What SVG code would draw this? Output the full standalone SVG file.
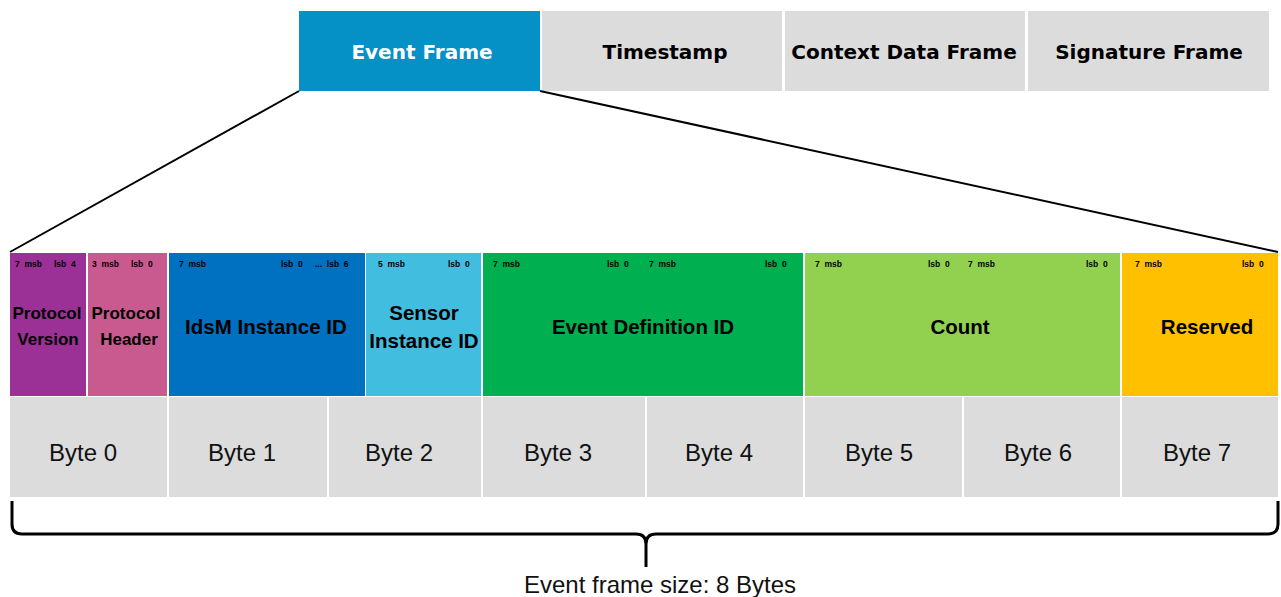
<svg xmlns="http://www.w3.org/2000/svg" width="1281" height="597" viewBox="0 0 1281 597">
<style>
.top{font-family:"DejaVu Sans",Verdana,sans-serif;font-weight:bold;font-size:20px;text-anchor:middle}
.fl{font-family:"Liberation Sans",Arial,sans-serif;font-weight:bold;font-size:20.5px;text-anchor:middle;fill:#000}
.fs{font-family:"Liberation Sans",Arial,sans-serif;font-weight:bold;font-size:17px;text-anchor:middle;fill:#000}
.sm{font-family:"Liberation Sans",Arial,sans-serif;font-weight:bold;font-size:8.5px;fill:#000;white-space:pre}
.by{font-family:"Liberation Sans",Arial,sans-serif;font-size:24px;text-anchor:middle;fill:#111}
.gray{fill:#DCDCDC}
.ln{stroke:#000;fill:none}
</style>
<rect width="1281" height="597" fill="#fff"/>
<g id="top-frames">
<g id="event-frame"><rect x="299" y="11" width="241" height="80" fill="#0591C6"/><text class="top" x="422" y="59" fill="#fff">Event Frame</text></g>
<g id="timestamp"><rect x="542" y="11" width="240" height="80" class="gray"/><text class="top" x="665" y="59" fill="#000">Timestamp</text></g>
<g id="context-data-frame"><rect x="785" y="11" width="240" height="80" class="gray"/><text class="top" x="904" y="59" fill="#000">Context Data Frame</text></g>
<g id="signature-frame"><rect x="1028" y="11" width="241" height="80" class="gray"/><text class="top" x="1149" y="59" fill="#000">Signature Frame</text></g>
</g>
<g id="connectors">
<line class="ln" x1="299" y1="91" x2="10" y2="252" stroke-width="2"/>
<line class="ln" x1="540" y1="91" x2="1278" y2="252" stroke-width="2"/>
<path class="ln" stroke-width="3" d="M12,501 V524 Q12,534 22,534 H636 Q646,534 646,544 V567 V544 Q646,534 656,534 H1268 Q1278,534 1278,524 V501"/>
</g>
<g id="protocol-version"><rect x="10" y="253" width="76" height="143" fill="#9B3196"/>
<text class="sm" x="15" y="267">7  msb</text><text class="sm" x="54" y="267">lsb  4</text>
<text class="fs" x="47" y="319">Protocol</text><text class="fs" x="48" y="345">Version</text></g>
<g id="protocol-header"><rect x="88" y="253" width="79" height="143" fill="#C95A8F"/>
<text class="sm" x="92" y="267">3  msb</text><text class="sm" x="131" y="267">lsb  0</text>
<text class="fs" x="126" y="319">Protocol</text><text class="fs" x="129" y="345">Header</text></g>
<g id="idsm-instance-id"><rect x="169" y="253" width="196" height="143" fill="#0070C0"/>
<text class="sm" x="179" y="267">7  msb</text><text class="sm" x="281" y="267">lsb  0</text><text class="sm" x="315" y="267">...  lsb  6</text>
<text class="fl" x="266" y="334">IdsM Instance ID</text></g>
<g id="sensor-instance-id"><rect x="366" y="253" width="115" height="143" fill="#41BEDF"/>
<text class="sm" x="378" y="267">5  msb</text><text class="sm" x="448" y="267">lsb  0</text>
<text class="fl" x="424" y="320">Sensor</text><text class="fl" x="424" y="348">Instance ID</text></g>
<g id="event-definition-id"><rect x="483" y="253" width="320" height="143" fill="#00B050"/>
<text class="sm" x="493" y="267">7  msb</text><text class="sm" x="607" y="267">lsb  0</text><text class="sm" x="649" y="267">7  msb</text><text class="sm" x="765" y="267">lsb  0</text>
<text class="fl" x="643" y="334">Event Definition ID</text></g>
<g id="count"><rect x="805" y="253" width="315" height="143" fill="#92D050"/>
<text class="sm" x="815" y="267">7  msb</text><text class="sm" x="928" y="267">lsb  0</text><text class="sm" x="968" y="267">7  msb</text><text class="sm" x="1086" y="267">lsb  0</text>
<text class="fl" x="960" y="334">Count</text></g>
<g id="reserved"><rect x="1122" y="253" width="156" height="143" fill="#FFC000"/>
<text class="sm" x="1135" y="267">7  msb</text><text class="sm" x="1242" y="267">lsb  0</text>
<text class="fl" x="1207" y="334">Reserved</text></g>
<g id="byte-0"><rect x="10" y="397" width="157" height="100" class="gray"/><text class="by" x="83" y="461">Byte 0</text></g>
<g id="byte-1"><rect x="169" y="397" width="158" height="100" class="gray"/><text class="by" x="242" y="461">Byte 1</text></g>
<g id="byte-2"><rect x="329" y="397" width="152" height="100" class="gray"/><text class="by" x="399" y="461">Byte 2</text></g>
<g id="byte-3"><rect x="483" y="397" width="162" height="100" class="gray"/><text class="by" x="558" y="461">Byte 3</text></g>
<g id="byte-4"><rect x="647" y="397" width="156" height="100" class="gray"/><text class="by" x="719" y="461">Byte 4</text></g>
<g id="byte-5"><rect x="805" y="397" width="157" height="100" class="gray"/><text class="by" x="879" y="461">Byte 5</text></g>
<g id="byte-6"><rect x="964" y="397" width="156" height="100" class="gray"/><text class="by" x="1038" y="461">Byte 6</text></g>
<g id="byte-7"><rect x="1122" y="397" width="156" height="100" class="gray"/><text class="by" x="1197" y="461">Byte 7</text></g>
<g id="size-label"><text class="by" x="660" y="593">Event frame size: 8 Bytes</text></g>
</svg>
